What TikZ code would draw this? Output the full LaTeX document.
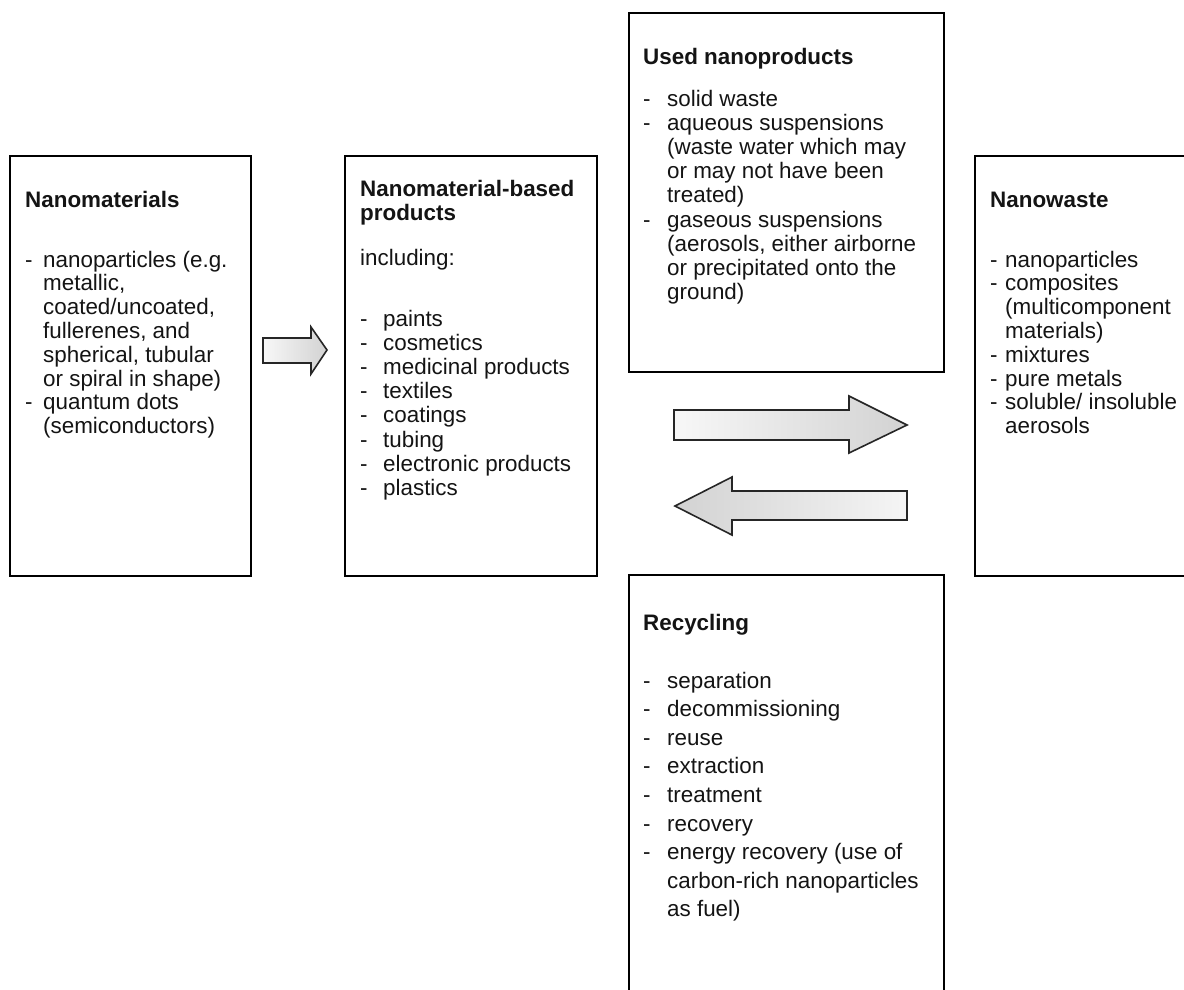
\documentclass[tikz,border=0pt]{standalone}
\usepackage{fontspec}
\setmainfont{Liberation Sans}
\usetikzlibrary{calc}

% two-column list: dash in a fixed-width column, text with hanging indent
\newcommand\dashlist[2]{\begin{tabular}[t]{@{}p{#1}@{}l@{}}#2\end{tabular}}

\tikzset{
  box/.style={draw=black, line width=1.8pt, anchor=north west, inner sep=0pt},
  heading/.style={anchor=base west, inner sep=0pt, text=black!92,
    font=\fontsize{22.4}{24}\selectfont\bfseries},
  body/.style={anchor=base west, inner sep=0pt, text=black!92,
    font=\fontsize{22.4}{23.8}\selectfont},
  widebody/.style={body, font=\fontsize{22.4}{24.2}\selectfont},
  loosebody/.style={body, font=\fontsize{22.4}{28.6}\selectfont},
  blockarrow/.style={draw=black!85, line width=1.6pt, line join=miter},
}

\begin{document}
\begin{tikzpicture}[x=1pt, y=1pt]
  \fill[white] (0,0) rectangle (1184,-989);
  \path[use as bounding box] (0,0) rectangle (1184,-989);
  \clip (0,0) rectangle (1184,-989);

  % ---- boxes ----
  \node[box, minimum width=241pt, minimum height=420pt] (nm)    at (9,-155)   {};
  \node[box, minimum width=252pt, minimum height=420pt] (prod)  at (344,-155) {};
  \node[box, minimum width=315pt, minimum height=359pt] (used)  at (628,-12)  {};
  \node[box, minimum width=240pt, minimum height=420pt] (waste) at (974,-155) {};
  \node[box, minimum width=315pt, minimum height=440pt] (recyc) at (628,-574) {};

  % ---- Nanomaterials ----
  \node[heading] (nmT) at ($(nm.north west)+(16,-52)$) {Nanomaterials};
  \node[body] (nmL) at ($(nm.north west)+(16,-112)$) {\dashlist{18pt}{%
    -&nanoparticles (e.g.\\
     &metallic,\\
     &coated/uncoated,\\
     &fullerenes, and\\
     &spherical, tubular\\
     &or spiral in shape)\\
    -&quantum dots\\
     &(semiconductors)}};

  % ---- Nanomaterial-based products ----
  \node[heading] (prodT) at ($(prod.north west)+(16,-41)$)
    {\begin{tabular}[t]{@{}l@{}}Nanomaterial-based\\products\end{tabular}};
  \node[body] (prodI) at ($(prod.north west)+(16,-110)$) {including:};
  \node[widebody] (prodL) at ($(prod.north west)+(16,-171)$) {\dashlist{23pt}{%
    -&paints\\
    -&cosmetics\\
    -&medicinal products\\
    -&textiles\\
    -&coatings\\
    -&tubing\\
    -&electronic products\\
    -&plastics}};

  % ---- Used nanoproducts ----
  \node[heading] (usedT) at ($(used.north west)+(15,-52)$) {Used nanoproducts};
  \node[widebody] (usedL) at ($(used.north west)+(15,-94)$) {\dashlist{24pt}{%
    -&solid waste\\
    -&aqueous suspensions\\
     &(waste water which may\\
     &or may not have been\\
     &treated)\\
    -&gaseous suspensions\\
     &(aerosols, either airborne\\
     &or precipitated onto the\\
     &ground)}};

  % ---- Nanowaste ----
  \node[heading] (wasteT) at ($(waste.north west)+(16,-52)$) {Nanowaste};
  \node[body] (wasteL) at ($(waste.north west)+(16,-112)$) {\dashlist{15pt}{%
    -&nanoparticles\\
    -&composites\\
     &(multicomponent\\
     &materials)\\
    -&mixtures\\
    -&pure metals\\
    -&soluble/ insoluble\\
     &aerosols}};

  % ---- Recycling ----
  \node[heading] (recycT) at ($(recyc.north west)+(15,-56)$) {Recycling};
  \node[loosebody] (recycL) at ($(recyc.north west)+(15,-114)$) {\dashlist{24pt}{%
    -&separation\\
    -&decommissioning\\
    -&reuse\\
    -&extraction\\
    -&treatment\\
    -&recovery\\
    -&energy recovery (use of\\
     &carbon-rich nanoparticles\\
     &as fuel)}};

  % ---- block arrows ----
  \draw[blockarrow, left color=gray!6, right color=gray!35]
    (263,-338) -- (311,-338) -- (311,-327) -- (327,-350)
    -- (311,-374) -- (311,-363) -- (263,-363) -- cycle;
  \draw[blockarrow, left color=gray!6, right color=gray!35]
    (674,-410) -- (849,-410) -- (849,-396) -- (907,-425)
    -- (849,-453) -- (849,-440) -- (674,-440) -- cycle;
  \draw[blockarrow, left color=gray!35, right color=gray!8]
    (907,-491) -- (732,-491) -- (732,-477) -- (675,-506)
    -- (732,-535) -- (732,-520) -- (907,-520) -- cycle;
\end{tikzpicture}
\end{document}
